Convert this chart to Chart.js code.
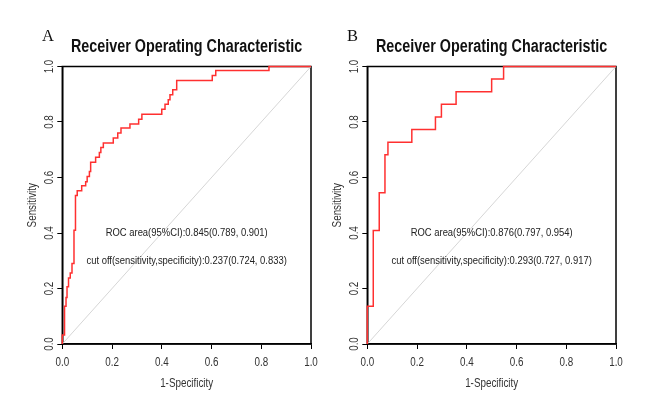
<!DOCTYPE html>
<html>
<head>
<meta charset="utf-8">
<script src="https://cdn.jsdelivr.net/npm/chart.js@4.4.1/dist/chart.umd.min.js"></script>
<style>
    html, body { margin: 0; padding: 0; background: #fff; }
    body { width: 669px; height: 400px; position: relative; overflow: hidden; }
    .panel { position: absolute; top: 0; width: 335px; height: 400px; }
    #panelA { left: 0; }
    #panelB { left: 305px; }
</style>
</head>
<body>
<div class="panel" id="panelA"><canvas id="rocA"></canvas></div>
<div class="panel" id="panelB"><canvas id="rocB"></canvas></div>
<script>
// Curva ROC del panel A (1-especificidad, sensibilidad)
const fprA = [0, 0, 0.009, 0.015, 0.019, 0.025, 0.032, 0.039, 0.047, 0.053, 0.060, 0.078, 0.094, 0.100, 0.109,
    0.114, 0.134, 0.149, 0.155, 0.165, 0.205, 0.223, 0.236, 0.272, 0.307, 0.320, 0.400, 0.413, 0.426,
    0.433, 0.444, 0.460, 0.603, 0.617, 0.831, 1];
const tprA = [0, 0.032, 0.136, 0.168, 0.206, 0.238, 0.256, 0.290, 0.410, 0.535, 0.552, 0.570, 0.585, 0.604, 0.622,
    0.655, 0.673, 0.690, 0.708, 0.724, 0.742, 0.760, 0.778, 0.793, 0.810, 0.828, 0.846, 0.864, 0.880,
    0.898, 0.916, 0.950, 0.968, 0.986, 1.0, 1.0];
const aucTextA = 'ROC area(95%CI):0.845(0.789, 0.901)';
const cutTextA = 'cut off(sensitivity,specificity):0.237(0.724, 0.833)';

// Curva ROC del panel B
const fprB = [0, 0, 0.024, 0.048, 0.071, 0.083, 0.179, 0.274, 0.298, 0.357, 0.500, 0.548, 1];
const tprB = [0, 0.136, 0.409, 0.545, 0.682, 0.727, 0.773, 0.818, 0.864, 0.909, 0.955, 1.0, 1.0];
const aucTextB = 'ROC area(95%CI):0.876(0.797, 0.954)';
const cutTextB = 'cut off(sensitivity,specificity):0.293(0.727, 0.917)';

// Diagonal de referencia y marcas de los ejes
const diagX = [0, 1];
const diagY = [0, 1];
const axisTicks = [0, 0.2, 0.4, 0.6, 0.8, 1.0];

const chartTitle = 'Receiver Operating Characteristic';
const xLabel = '1-Specificity';
const yLabel = 'Sensitivity';

const sans = "'Liberation Sans', Arial, sans-serif";
const serif = "'Liberation Serif', 'DejaVu Serif', serif";
const narrowScale = 0.82; // no hay fuente estrecha: se comprime en horizontal

// Texto estrecho, opcionalmente girado
function narrowText(ctx, text, x, y, rot) {
    ctx.save();
    ctx.translate(x, y);
    if (rot) ctx.rotate(rot);
    ctx.scale(narrowScale, 1);
    ctx.fillText(text, 0, 0);
    ctx.restore();
}

// Textos, caja y etiquetas de los ejes (posiciones tomadas de las escalas)
const rocDecor = {
    id: 'rocDecor',
    beforeDatasetsDraw(chart) {
        const { ctx, chartArea: a } = chart;
        ctx.save();
        ctx.strokeStyle = '#000';
        ctx.lineWidth = 1.5;
        ctx.strokeRect(a.left, a.top, a.right - a.left, a.bottom - a.top);
        ctx.restore();
    },
    afterDraw(chart, args, opts) {
        const { ctx, chartArea: a, scales } = chart;
        const cx = (a.left + a.right) / 2;
        const cy = (a.top + a.bottom) / 2;
        ctx.save();

        ctx.fillStyle = '#111';
        ctx.font = '16.5px ' + serif;
        ctx.textAlign = 'left';
        ctx.textBaseline = 'alphabetic';
        ctx.fillText(opts.letter, 42, 41);

        ctx.font = 'bold 17.5px ' + sans;
        ctx.textAlign = 'center';
        narrowText(ctx, chartTitle, cx, 52);

        ctx.fillStyle = '#222';
        ctx.font = '11.5px ' + sans;
        ctx.textBaseline = 'middle';
        narrowText(ctx, opts.auc, scales.x.getPixelForValue(0.5), scales.y.getPixelForValue(0.4));
        narrowText(ctx, opts.cut, scales.x.getPixelForValue(0.5), scales.y.getPixelForValue(0.3));

        ctx.fillStyle = '#333';
        ctx.font = '12px ' + sans;
        narrowText(ctx, xLabel, cx, 384);
        narrowText(ctx, yLabel, 32.5, cy, -Math.PI / 2);

        axisTicks.forEach(v => {
            narrowText(ctx, v.toFixed(1), scales.x.getPixelForValue(v), 362.5);
            narrowText(ctx, v.toFixed(1), 49.5, scales.y.getPixelForValue(v), -Math.PI / 2);
        });
        ctx.restore();
    }
};

function rocChart(id, fpr, tpr, letter, auc, cut) {
    const axis = {
        type: 'linear',
        min: 0,
        max: 1,
        afterBuildTicks: s => { s.ticks = axisTicks.map(v => ({ value: v })); },
        grid: { drawOnChartArea: false, color: '#000', tickLength: 5, lineWidth: 1 },
        border: { display: true, color: '#000', width: 1.5 },
        ticks: { display: false }
    };
    return new Chart(document.getElementById(id), {
        type: 'line',
        data: {
            datasets: [
                {
                    data: fpr.map((x, i) => ({ x: x, y: tpr[i] })),
                    borderColor: '#ff3030',
                    borderWidth: 1.5,
                    stepped: 'before',
                    pointRadius: 0,
                    fill: false,
                    clip: 4
                },
                {
                    data: diagX.map((x, i) => ({ x: x, y: diagY[i] })),
                    borderColor: '#d6d6d6',
                    borderWidth: 1,
                    pointRadius: 0,
                    fill: false
                }
            ]
        },
        options: {
            responsive: true,
            maintainAspectRatio: false,
            animation: false,
            layout: { padding: { left: 0, right: 24, top: 66.5, bottom: 0 } },
            plugins: {
                legend: { display: false },
                tooltip: { enabled: false },
                rocDecor: { letter: letter, auc: auc, cut: cut }
            },
            scales: {
                x: { ...axis, afterFit: s => { s.height = 56; } },
                y: { ...axis, afterFit: s => { s.width = 62.3; } }
            }
        },
        plugins: [rocDecor]
    });
}

rocChart('rocA', fprA, tprA, 'A', aucTextA, cutTextA);
rocChart('rocB', fprB, tprB, 'B', aucTextB, cutTextB);
</script>
</body>
</html>
